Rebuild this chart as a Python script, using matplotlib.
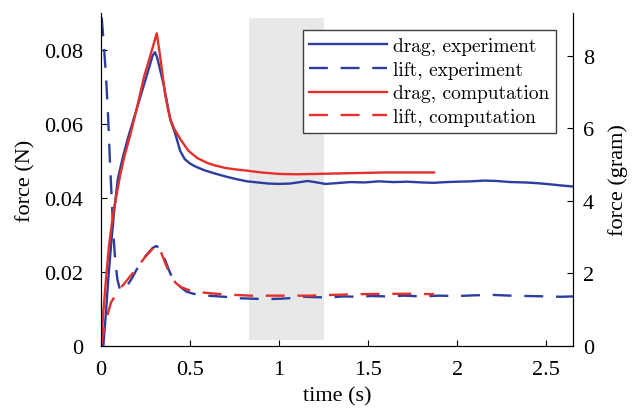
import numpy as np
import matplotlib
matplotlib.use("Agg")
import matplotlib.pyplot as plt

# data (time in s, force in N)
t_drag_exp = [0.013, 0.028, 0.041, 0.056, 0.073, 0.094, 0.12, 0.15, 0.2, 0.25, 0.29, 0.303, 0.315,
              0.33, 0.35, 0.37, 0.39, 0.416, 0.444, 0.47, 0.5, 0.53, 0.58, 0.64, 0.7, 0.76, 0.82,
              0.88, 0.94, 1.0, 1.06, 1.12, 1.16, 1.2, 1.26, 1.32, 1.4, 1.48, 1.56, 1.64, 1.72, 1.8,
              1.87, 1.94, 2.0, 2.08, 2.15, 2.22, 2.3, 2.38, 2.45, 2.52, 2.58, 2.65]
f_drag_exp = [0.0, 0.0091, 0.0181, 0.027, 0.036, 0.045, 0.0505, 0.056, 0.064, 0.072, 0.0785, 0.0794, 0.078,
              0.075, 0.071, 0.066, 0.061, 0.0575, 0.0528, 0.0505, 0.0493, 0.0485, 0.0475, 0.0466, 0.0458, 0.0451, 0.0445,
              0.0442, 0.0439, 0.0438, 0.0439, 0.0443, 0.0446, 0.0443, 0.0438, 0.044, 0.0443, 0.0442, 0.0445, 0.0443, 0.0444, 0.0442,
              0.0441, 0.0443, 0.0444, 0.0445, 0.0447, 0.0446, 0.0443, 0.0442, 0.044, 0.0437, 0.0434, 0.0431]

t_lift_exp = [0.004, 0.015, 0.028, 0.04, 0.05, 0.06, 0.07, 0.08, 0.092, 0.105, 0.12, 0.14, 0.17, 0.21,
              0.25, 0.29, 0.31, 0.33, 0.36, 0.39, 0.42, 0.45, 0.48, 0.52, 0.56, 0.6, 0.66, 0.72, 0.78,
              0.84, 0.9, 0.96, 1.02, 1.08, 1.14, 1.2, 1.28, 1.36, 1.44, 1.52, 1.6, 1.7, 1.8, 1.9, 2.0,
              2.1, 2.2, 2.3, 2.4, 2.5, 2.58, 2.65]
f_lift_exp = [0.0888, 0.082, 0.073, 0.062, 0.05, 0.04, 0.03, 0.023, 0.018, 0.0155, 0.0148, 0.0158, 0.018, 0.0215,
              0.0243, 0.0265, 0.027, 0.0265, 0.0232, 0.0195, 0.0172, 0.0158, 0.0147, 0.0141, 0.0138, 0.0136, 0.0134, 0.0132, 0.0129,
              0.0128, 0.0127, 0.0127, 0.0128, 0.013, 0.0133, 0.0132, 0.0131, 0.0134, 0.0133, 0.0135, 0.0134, 0.0136, 0.0134, 0.0136, 0.0135,
              0.0137, 0.0138, 0.0136, 0.0135, 0.0134, 0.0133, 0.0134]

t_drag_cmp = [0.0, 0.013, 0.028, 0.045, 0.069, 0.09, 0.107, 0.13, 0.163, 0.2, 0.243, 0.28, 0.313, 0.33,
              0.345, 0.36, 0.375, 0.39, 0.41, 0.444, 0.49, 0.54, 0.6, 0.64, 0.7, 0.76, 0.818, 0.9, 1.0,
              1.1, 1.2, 1.3, 1.4, 1.5, 1.6, 1.7, 1.8, 1.87]
f_drag_cmp = [0.0, 0.0091, 0.0181, 0.0271, 0.0361, 0.0415, 0.046, 0.051, 0.0568, 0.064, 0.073, 0.079, 0.0845, 0.079,
              0.0735, 0.068, 0.0642, 0.0612, 0.0588, 0.056, 0.0528, 0.0508, 0.0494, 0.0488, 0.0481, 0.0477, 0.0474, 0.0469, 0.0465,
              0.0464, 0.0465, 0.0466, 0.0467, 0.0468, 0.0469, 0.0469, 0.0469, 0.0469]

t_lift_cmp = [0.0, 0.02, 0.056, 0.107, 0.15, 0.2, 0.25, 0.3, 0.315, 0.33, 0.36, 0.39, 0.42, 0.45, 0.5,
              0.56, 0.65, 0.75, 0.84, 1.0, 1.17, 1.3, 1.45, 1.6, 1.75, 1.87]
f_lift_cmp = [0.0, 0.0055, 0.0118, 0.0155, 0.018, 0.021, 0.0242, 0.0268, 0.0272, 0.0262, 0.0225, 0.019, 0.017, 0.0159, 0.015,
              0.0145, 0.0141, 0.0138, 0.0136, 0.0136, 0.0136, 0.0138, 0.014, 0.0141, 0.0141, 0.014]

shade = (0.83, 1.25)
xticks = [0, 0.5, 1, 1.5, 2, 2.5]
xtick_labels = ["0", "0.5", "1", "1.5", "2", "2.5"]
yticks = [0, 0.02, 0.04, 0.06, 0.08]
ytick_labels = ["0", "0.02", "0.04", "0.06", "0.08"]
gticks = [0, 2, 4, 6, 8]

blue = "#2b3ea0"
red = "#e5302a"
dash = (0, (8.0, 5.4))

plt.rcParams["font.family"] = ["Liberation Serif", "DejaVu Serif"]

fig = plt.figure(figsize=(6.36, 4.10), dpi=100)
ax = fig.add_axes([0.1588, 0.1537, 0.7422, 0.8122])

ax.axvspan(shade[0], shade[1], ymin=0.018, ymax=0.985, color="#e8e8e8", lw=0, zorder=0)

ax.plot(t_drag_exp, f_drag_exp, color=blue, lw=1.7, label="drag, experiment")
ax.plot(t_lift_exp, f_lift_exp, color=blue, lw=1.7, ls=dash, label="lift, experiment")
ax.plot(t_drag_cmp, f_drag_cmp, color=red, lw=1.7, label="drag, computation")
ax.plot(t_lift_cmp, f_lift_cmp, color=red, lw=1.7, ls=dash, label="lift, computation")

ax.set_xlim(0, 2.65)
ax.set_ylim(0, 0.09)
ax.set_xticks(xticks)
ax.set_xticklabels(xtick_labels)
ax.set_yticks(yticks)
ax.set_yticklabels(ytick_labels)
ax.tick_params(direction="in", labelsize=16, length=4)
ax.tick_params(axis="y", pad=13)
ax.tick_params(axis="x", pad=10)
ax.spines["top"].set_visible(False)
ax.set_xlabel("time (s)", fontsize=16, labelpad=5)
ax.set_ylabel("force (N)", fontsize=16, labelpad=6)

ax2 = ax.twinx()
ax2.set_ylim(0, 0.09 / 9.81 * 1000)
ax2.set_yticks(gticks)
ax2.set_yticklabels([str(g) for g in gticks])
ax2.tick_params(direction="in", labelsize=16, length=4, pad=7)
ax2.spines["top"].set_visible(False)
ax2.set_ylabel("force (gram)", fontsize=16, labelpad=10)

leg = ax.legend(loc="upper right", bbox_to_anchor=(0.964, 0.949), prop={"family": "cmr10", "size": 14},
                handlelength=4.0, fancybox=False, framealpha=1, borderpad=0.35, labelspacing=0.3,
                handletextpad=0.3, borderaxespad=0)
leg.get_frame().set_edgecolor("#404040")
leg.get_frame().set_linewidth(1.0)

fig.savefig("out.png", dpi=100)
